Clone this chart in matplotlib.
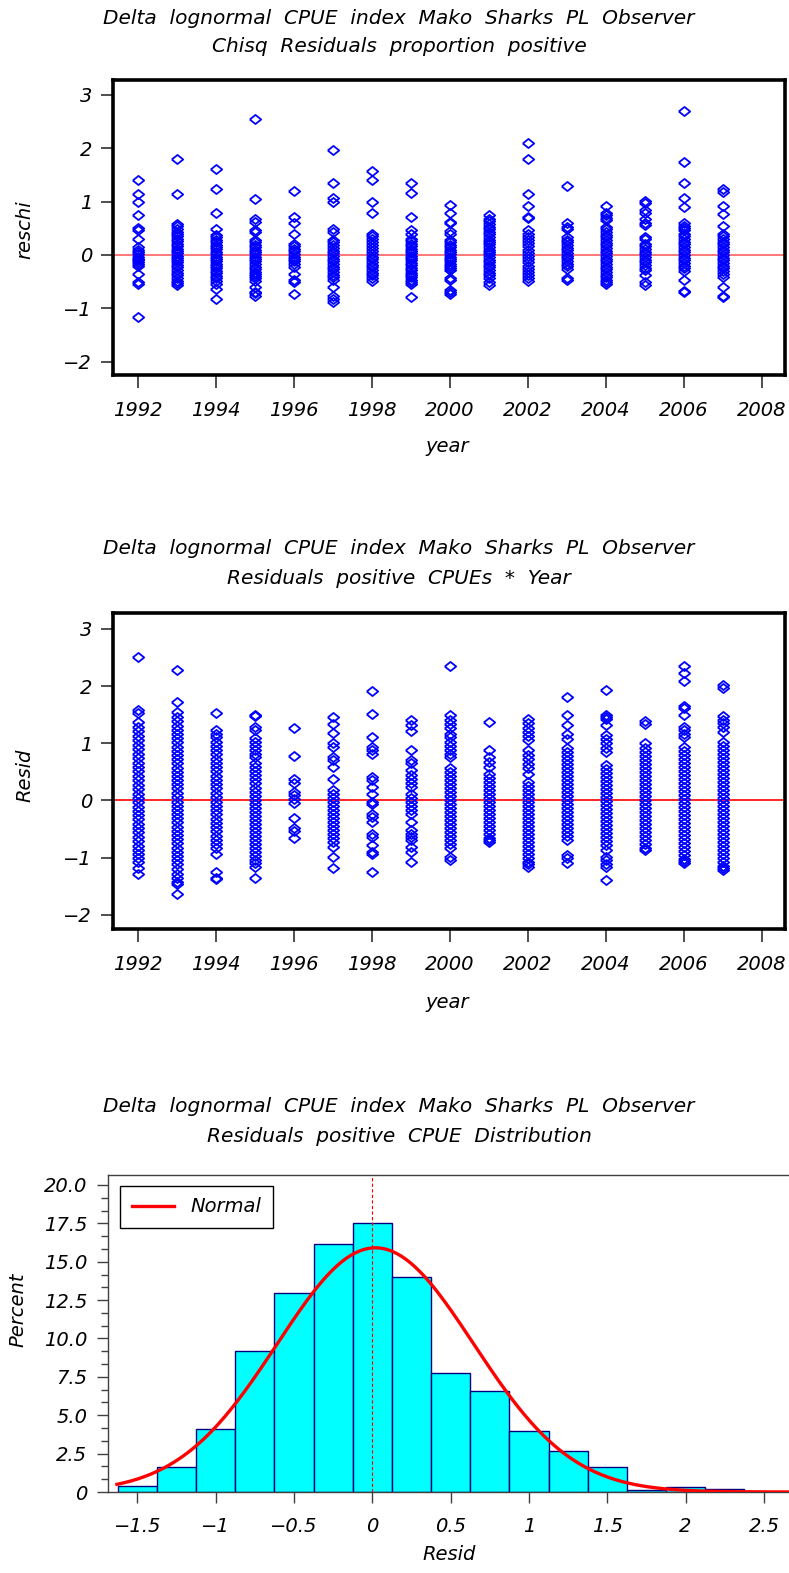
import numpy as np
import matplotlib
matplotlib.use("Agg")
import matplotlib.pyplot as plt

plt.rcParams['font.family'] = ['DejaVu Sans']
plt.rcParams['font.style'] = 'italic'

years = list(range(1992, 2008))

# chi-square residuals, proportion positive (top panel)
reschi = [
    [1.41, 1.15, 0.99, 0.74, 0.50, 0.47, 0.30, 0.15, 0.10, 0.05, 0.01, -0.03, -0.07, -0.10, -0.14, -0.17, -0.21, -0.35, -0.50, -0.55, -1.17],
    [1.79, 1.14, 0.58, 0.54, 0.48, 0.44, 0.40, 0.35, 0.30, 0.26, 0.21, 0.17, 0.12, 0.08, 0.03, -0.01, -0.05, -0.10, -0.14, -0.19, -0.23, -0.28, -0.33, -0.38, -0.43, -0.48, -0.52, -0.57],
    [1.62, 1.24, 0.78, 0.48, 0.37, 0.33, 0.28, 0.24, 0.19, 0.15, 0.11, 0.06, 0.02, -0.03, -0.07, -0.12, -0.16, -0.21, -0.25, -0.30, -0.34, -0.39, -0.44, -0.48, -0.54, -0.63, -0.83],
    [2.55, 1.04, 0.67, 0.62, 0.46, 0.44, 0.28, 0.24, 0.19, 0.15, 0.10, 0.06, 0.01, -0.03, -0.08, -0.12, -0.17, -0.22, -0.26, -0.31, -0.35, -0.40, -0.44, -0.48, -0.60, -0.69, -0.72, -0.77],
    [1.19, 0.72, 0.60, 0.40, 0.20, 0.17, 0.12, 0.07, 0.02, -0.03, -0.08, -0.12, -0.17, -0.22, -0.35, -0.46, -0.50, -0.73],
    [1.96, 1.34, 1.07, 0.99, 0.48, 0.43, 0.28, 0.24, 0.19, 0.13, 0.08, 0.03, -0.02, -0.07, -0.12, -0.17, -0.22, -0.27, -0.32, -0.37, -0.42, -0.46, -0.60, -0.76, -0.82, -0.88],
    [1.58, 1.40, 1.00, 0.79, 0.40, 0.35, 0.30, 0.24, 0.19, 0.13, 0.08, 0.02, -0.03, -0.08, -0.13, -0.18, -0.23, -0.28, -0.33, -0.38, -0.43, -0.48],
    [1.35, 1.16, 0.72, 0.46, 0.40, 0.30, 0.26, 0.21, 0.17, 0.12, 0.08, 0.03, -0.01, -0.06, -0.10, -0.15, -0.19, -0.24, -0.28, -0.33, -0.37, -0.42, -0.46, -0.50, -0.54, -0.79],
    [0.93, 0.78, 0.62, 0.60, 0.45, 0.40, 0.28, 0.24, 0.19, 0.15, 0.10, 0.06, 0.01, -0.03, -0.08, -0.12, -0.17, -0.21, -0.25, -0.29, -0.44, -0.47, -0.66, -0.70, -0.73],
    [0.74, 0.68, 0.63, 0.58, 0.53, 0.48, 0.44, 0.39, 0.34, 0.29, 0.25, 0.20, 0.15, 0.10, 0.06, 0.01, -0.04, -0.09, -0.13, -0.18, -0.23, -0.28, -0.33, -0.38, -0.44, -0.50, -0.57],
    [2.09, 1.80, 1.14, 0.91, 0.72, 0.69, 0.46, 0.40, 0.34, 0.28, 0.22, 0.16, 0.10, 0.04, -0.02, -0.08, -0.14, -0.20, -0.26, -0.32, -0.38, -0.43, -0.48],
    [1.29, 0.59, 0.53, 0.48, 0.34, 0.29, 0.24, 0.19, 0.14, 0.09, 0.04, -0.01, -0.06, -0.11, -0.16, -0.21, -0.27, -0.44, -0.47],
    [0.91, 0.78, 0.74, 0.70, 0.65, 0.53, 0.48, 0.43, 0.38, 0.33, 0.28, 0.23, 0.18, 0.13, 0.08, 0.03, -0.02, -0.07, -0.12, -0.17, -0.22, -0.27, -0.32, -0.37, -0.42, -0.47, -0.51, -0.54],
    [1.01, 0.98, 0.84, 0.78, 0.68, 0.60, 0.56, 0.34, 0.30, 0.21, 0.16, 0.11, 0.06, 0.01, -0.04, -0.09, -0.14, -0.19, -0.24, -0.29, -0.38, -0.50, -0.57],
    [2.69, 1.75, 1.35, 1.06, 0.89, 0.59, 0.55, 0.50, 0.46, 0.40, 0.35, 0.30, 0.25, 0.20, 0.15, 0.10, 0.05, 0.00, -0.05, -0.10, -0.15, -0.20, -0.25, -0.30, -0.46, -0.68, -0.70],
    [1.24, 1.18, 0.91, 0.76, 0.54, 0.40, 0.35, 0.30, 0.25, 0.20, 0.15, 0.10, 0.05, 0.00, -0.05, -0.10, -0.15, -0.20, -0.25, -0.30, -0.36, -0.41, -0.60, -0.76, -0.79],
]

# residuals of positive CPUEs (middle panel)
resid = [
    [2.51, 1.58, 1.53, 1.38, 1.29, 1.21, 1.12, 1.05, 0.97, 0.90, 0.81, 0.74, 0.66, 0.58, 0.51, 0.43, 0.36, 0.27, 0.20, 0.12, 0.05, -0.03, -0.11, -0.18, -0.26, -0.33, -0.41, -0.49, -0.56, -0.64, -0.71, -0.79, -0.86, -0.94, -1.01, -1.08, -1.19, -1.28],
    [2.29, 1.73, 1.55, 1.46, 1.39, 1.31, 1.24, 1.17, 1.09, 1.02, 0.94, 0.87, 0.80, 0.72, 0.65, 0.57, 0.50, 0.43, 0.35, 0.28, 0.21, 0.13, 0.06, -0.02, -0.09, -0.16, -0.24, -0.31, -0.38, -0.46, -0.53, -0.60, -0.68, -0.75, -0.83, -0.90, -0.98, -1.05, -1.12, -1.20, -1.28, -1.35, -1.42, -1.47, -1.63],
    [1.53, 1.23, 1.17, 1.11, 1.03, 0.96, 0.88, 0.81, 0.73, 0.66, 0.58, 0.51, 0.43, 0.36, 0.28, 0.21, 0.13, 0.06, -0.02, -0.09, -0.17, -0.24, -0.32, -0.39, -0.47, -0.54, -0.62, -0.69, -0.77, -0.84, -0.93, -1.25, -1.36, -1.38],
    [1.49, 1.47, 1.29, 1.23, 1.10, 1.03, 0.96, 0.89, 0.82, 0.76, 0.65, 0.58, 0.51, 0.44, 0.37, 0.30, 0.22, 0.15, 0.08, 0.01, -0.06, -0.13, -0.20, -0.27, -0.34, -0.41, -0.48, -0.55, -0.62, -0.69, -0.76, -0.83, -0.90, -0.97, -1.04, -1.10, -1.16, -1.36],
    [1.27, 0.78, 0.38, 0.30, 0.15, 0.09, 0.03, -0.05, -0.31, -0.49, -0.53, -0.66],
    [1.46, 1.34, 1.18, 1.00, 0.94, 0.76, 0.70, 0.59, 0.38, 0.18, 0.11, 0.04, -0.03, -0.10, -0.17, -0.24, -0.31, -0.38, -0.45, -0.52, -0.59, -0.66, -0.73, -0.81, -0.99, -1.19],
    [1.91, 1.51, 1.11, 0.94, 0.89, 0.81, 0.41, 0.36, 0.24, 0.12, -0.02, -0.07, -0.23, -0.29, -0.37, -0.58, -0.64, -0.78, -0.90, -0.94, -1.25],
    [1.41, 1.32, 1.21, 0.88, 0.71, 0.65, 0.53, 0.44, 0.38, 0.31, 0.24, 0.12, 0.05, -0.02, -0.09, -0.16, -0.23, -0.37, -0.52, -0.58, -0.64, -0.69, -0.81, -0.90, -1.07],
    [2.35, 1.49, 1.41, 1.34, 1.26, 1.17, 1.11, 1.03, 0.96, 0.89, 0.82, 0.76, 0.56, 0.49, 0.42, 0.35, 0.28, 0.21, 0.14, 0.07, 0.00, -0.07, -0.14, -0.21, -0.28, -0.35, -0.42, -0.49, -0.56, -0.63, -0.70, -0.77, -0.84, -0.99, -1.04],
    [1.38, 0.88, 0.76, 0.68, 0.59, 0.47, 0.40, 0.33, 0.26, 0.19, 0.12, 0.05, -0.02, -0.09, -0.16, -0.23, -0.30, -0.37, -0.44, -0.51, -0.58, -0.65, -0.69, -0.72],
    [1.43, 1.35, 1.27, 1.19, 1.12, 1.06, 0.88, 0.80, 0.72, 0.64, 0.56, 0.47, 0.33, 0.26, 0.19, 0.12, 0.05, -0.02, -0.09, -0.16, -0.23, -0.30, -0.37, -0.44, -0.51, -0.58, -0.65, -0.72, -0.79, -0.86, -0.93, -1.00, -1.07, -1.12, -1.16],
    [1.81, 1.49, 1.32, 1.17, 1.08, 0.91, 0.84, 0.77, 0.70, 0.63, 0.56, 0.49, 0.42, 0.35, 0.28, 0.21, 0.14, 0.07, 0.00, -0.07, -0.14, -0.21, -0.28, -0.35, -0.42, -0.49, -0.56, -0.63, -0.69, -0.96, -1.01, -1.10],
    [1.93, 1.49, 1.46, 1.43, 1.32, 1.15, 1.08, 1.00, 0.92, 0.84, 0.62, 0.55, 0.48, 0.41, 0.34, 0.27, 0.20, 0.13, 0.06, -0.01, -0.08, -0.15, -0.22, -0.29, -0.36, -0.43, -0.50, -0.57, -0.64, -0.71, -0.78, -0.87, -0.99, -1.05, -1.11, -1.16, -1.39],
    [1.39, 1.34, 1.00, 0.91, 0.84, 0.77, 0.70, 0.63, 0.56, 0.49, 0.42, 0.35, 0.28, 0.21, 0.14, 0.07, 0.00, -0.07, -0.14, -0.21, -0.28, -0.35, -0.42, -0.49, -0.56, -0.63, -0.70, -0.77, -0.83, -0.87],
    [2.35, 2.23, 2.09, 1.65, 1.61, 1.49, 1.29, 1.23, 1.17, 1.11, 0.94, 0.87, 0.80, 0.73, 0.66, 0.59, 0.52, 0.45, 0.38, 0.31, 0.24, 0.17, 0.10, 0.03, -0.04, -0.11, -0.18, -0.25, -0.32, -0.39, -0.46, -0.53, -0.60, -0.67, -0.74, -0.81, -0.88, -0.95, -1.02, -1.06, -1.10],
    [2.02, 1.96, 1.47, 1.41, 1.35, 1.28, 1.20, 1.03, 0.96, 0.89, 0.82, 0.75, 0.68, 0.61, 0.54, 0.47, 0.40, 0.33, 0.26, 0.19, 0.12, 0.05, -0.02, -0.09, -0.16, -0.23, -0.30, -0.37, -0.44, -0.51, -0.58, -0.65, -0.72, -0.79, -0.86, -0.93, -1.00, -1.07, -1.14, -1.18, -1.22],
]

# histogram of residuals (bottom panel)
bin_mid = [-1.5, -1.25, -1.0, -0.75, -0.5, -0.25, 0.0, 0.25, 0.5, 0.75, 1.0, 1.25, 1.5, 1.75, 2.0, 2.25]
percent = [0.39, 1.64, 4.08, 9.19, 12.95, 16.18, 17.53, 14.0, 7.77, 6.59, 4.0, 2.64, 1.64, 0.13, 0.30, 0.22]
norm_mu = 0.02
norm_sigma = 0.627

W, H = 789, 1573
fig = plt.figure(figsize=(W / 100, H / 100), dpi=100)

# diamond slightly wider than tall, like the SAS symbol
diamond = [(-1, 0), (0, 0.8), (1, 0), (0, -0.8), (-1, 0)]
title_fs = 14.5
tick_fs = 14


def px_axes(left, top, right, bottom):
    return fig.add_axes([left / W, 1 - bottom / H, (right - left) / W, (bottom - top) / H])


def title(lines, y1, y2):
    # SAS titles are spaced out, so words get a double gap
    for txt, y in zip(lines, [y1, y2]):
        fig.text(399 / W, 1 - y / H, txt.replace(' ', '  '), ha='center', va='center', fontsize=title_fs)


def resid_panel(top, bottom, data, ylabel, ylab_y, xlab_y, refcolor):
    ax = px_axes(113, top, 785, bottom)
    for yr, vals in zip(years, data):
        ax.plot([yr] * len(vals), vals, linestyle='none', marker=diamond, markersize=8.2,
                markerfacecolor='none', markeredgecolor='#0000FF', markeredgewidth=1.3)
    ax.axhline(0, color=refcolor, lw=1.2, zorder=0)
    ax.set_xlim(1991.36, 2008.6)
    ax.set_ylim(-2.25, 3.28)
    ax.set_xticks(range(1992, 2009, 2))
    ax.set_yticks([-2, -1, 0, 1, 2, 3])
    ax.tick_params(direction='out', length=9, width=1.2, color='#303030', labelsize=tick_fs)
    ax.tick_params(axis='x', pad=10)
    ax.tick_params(axis='y', pad=6)
    for s in ax.spines.values():
        s.set_linewidth(2.6)
        s.set_color('black')
    fig.text(25 / W, 1 - ylab_y / H, ylabel, rotation=90, ha='center', va='center', fontsize=tick_fs)
    fig.text(447 / W, 1 - xlab_y / H, 'year', ha='center', va='center', fontsize=tick_fs)
    return ax


title(['Delta lognormal CPUE index Mako Sharks PL Observer',
       'Chisq Residuals proportion positive'], 18, 47)
resid_panel(80, 375, reschi, 'reschi', 230, 447, '#FF6060')

title(['Delta lognormal CPUE index Mako Sharks PL Observer',
       'Residuals positive CPUEs * Year'], 548, 578)
resid_panel(613, 929, resid, 'Resid', 775, 1003, '#FF0000')

title(['Delta lognormal CPUE index Mako Sharks PL Observer',
       'Residuals positive CPUE Distribution'], 1107, 1137)

ax = px_axes(108, 1175, 789, 1492)
ax.bar(bin_mid, percent, width=0.25, color='#00FFFF', edgecolor='#000080', linewidth=1.0, zorder=2)
xs = np.linspace(-1.63, 2.65, 300)
ys = 100 * 0.25 * np.exp(-0.5 * ((xs - norm_mu) / norm_sigma) ** 2) / (norm_sigma * np.sqrt(2 * np.pi))
ax.plot(xs, ys, color='#FF0000', lw=2.4, zorder=3, label='Normal')
ax.axvline(0, color='#FF0000', lw=0.8, ls=(0, (3, 2)), zorder=4)
ax.set_xlim(-1.687, 2.66)
ax.set_ylim(0, 20.65)
ax.set_xticks([-1.5, -1, -0.5, 0, 0.5, 1, 1.5, 2, 2.5])
ax.set_xticklabels(['\u22121.5', '\u22121', '\u22120.5', '0', '0.5', '1', '1.5', '2', '2.5'])
ax.set_yticks(np.arange(0, 20.1, 2.5))
ax.set_yticklabels(['0'] + ['%.1f' % v for v in np.arange(2.5, 20.1, 2.5)])
ax.set_yticks(np.arange(0, 20.1, 2.5 / 3), minor=True)
ax.tick_params(direction='out', length=8, width=1.0, color='#404040', labelsize=tick_fs)
ax.tick_params(which='minor', direction='out', length=5, width=1.0, color='#404040')
ax.tick_params(axis='x', pad=10)
ax.tick_params(axis='y', pad=7)
ax.spines['right'].set_visible(False)
for side in ['left', 'top', 'bottom']:
    ax.spines[side].set_linewidth(1.0)
    ax.spines[side].set_color('#404040')
ax.legend(loc='upper left', bbox_to_anchor=(0.0177, 0.966), borderaxespad=0, fancybox=False,
          edgecolor='black', framealpha=1, fontsize=tick_fs, handlelength=2.2,
          borderpad=0.6, handletextpad=0.8)
fig.text(18 / W, 1 - 1310 / H, 'Percent', rotation=90, ha='center', va='center', fontsize=tick_fs)
fig.text(449 / W, 1 - 1555 / H, 'Resid', ha='center', va='center', fontsize=tick_fs)

fig.savefig('out.png', dpi=100)
